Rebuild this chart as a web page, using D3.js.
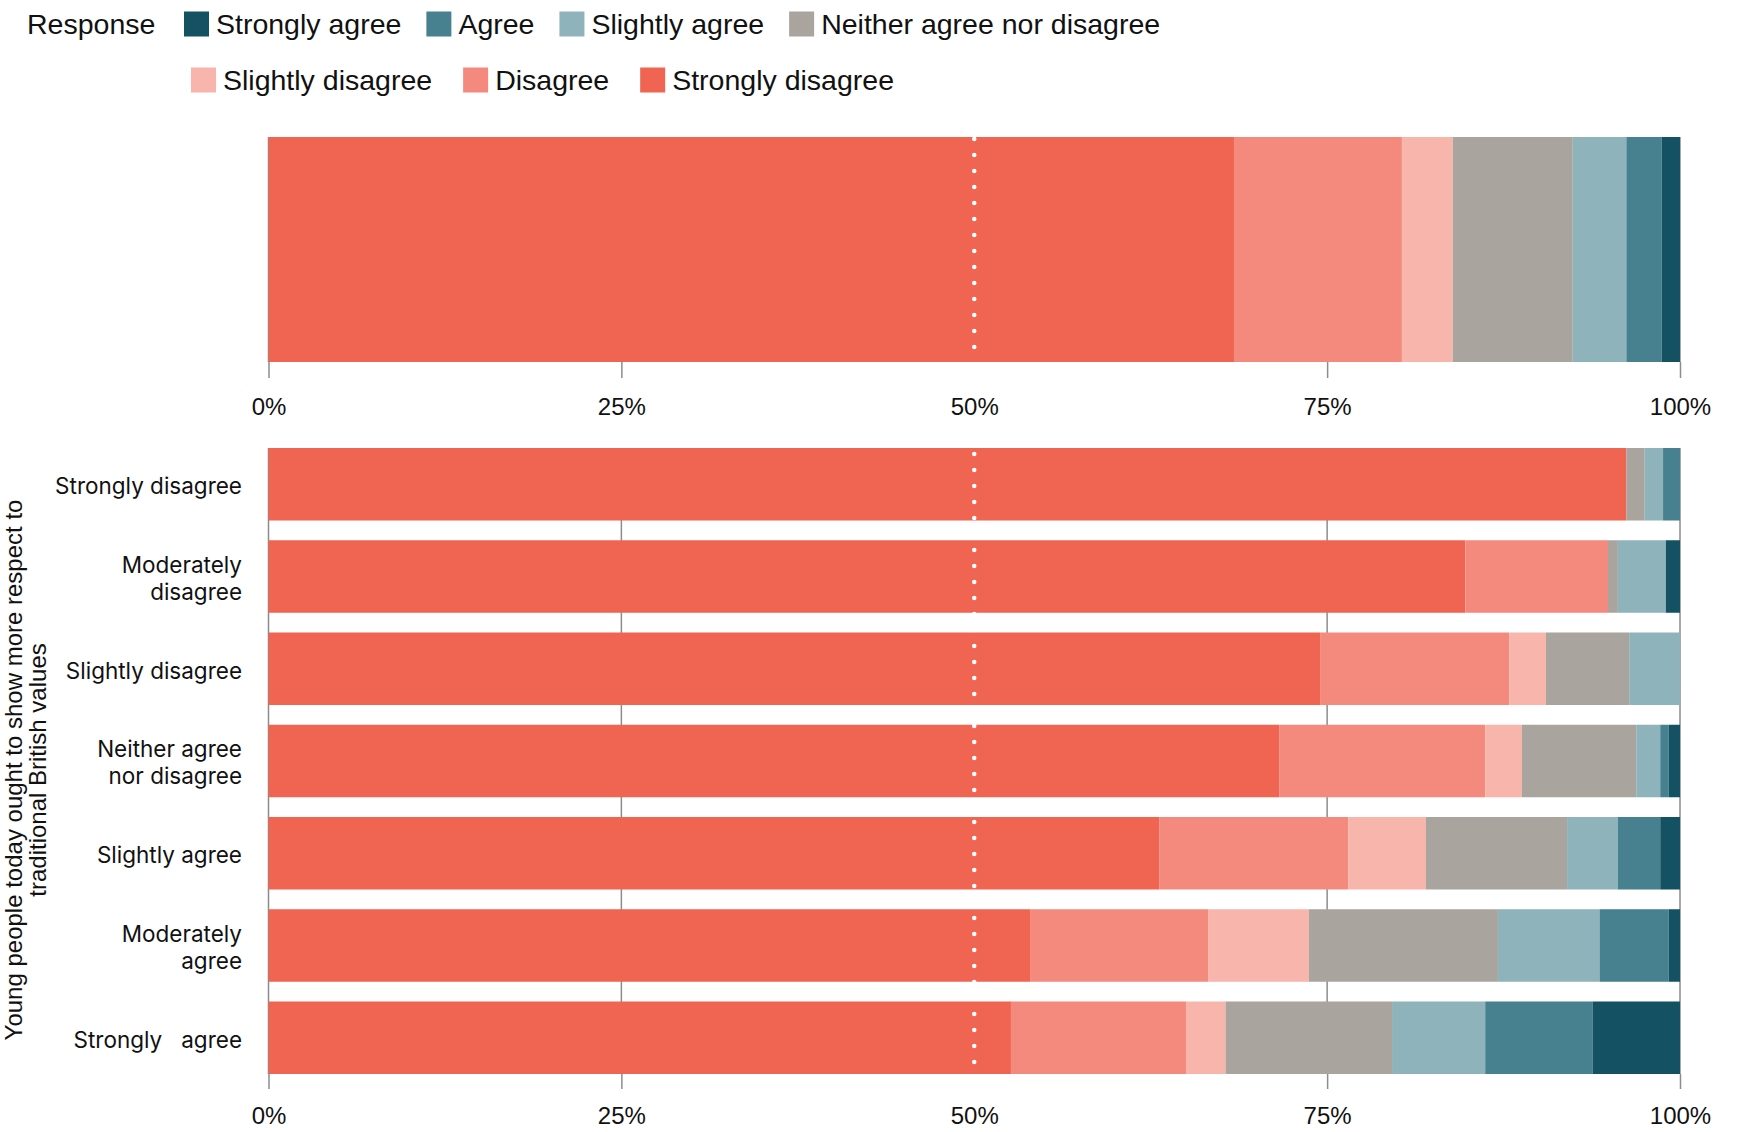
<!DOCTYPE html>
<html>

<head>
  <meta charset="utf-8">
  <style>
    body {
      margin: 0;
      background-color: #ffffff;
      font-family: 'Liberation Sans', sans-serif;
    }

    .legend text {
      font-size: 28.5px;
      fill: #111;
    }

    .axis text {
      font-family: 'Liberation Sans', sans-serif;
      font-size: 24px;
      fill: #111;
    }

    .axis line {
      stroke: #8c8c8c;
      stroke-width: 1.5px;
    }

    .grid line {
      stroke: #8c8c8c;
      stroke-width: 1.5px;
    }

    .cat {
      font-family: 'Inter', sans-serif;
      font-size: 22.5px;
      fill: #111;
      white-space: pre;
    }

    .title {
      font-size: 24px;
      fill: #111;
    }

    .midline {
      stroke: #fff;
      stroke-width: 4.5px;
      stroke-linecap: round;
      stroke-dasharray: 0, 16;
    }
  </style>
</head>

<body>
  <div id="chart"></div>

  <script src="https://d3js.org/d3.v7.min.js"></script>
  <script>
    var width = 1739,
      height = 1132;

    // responses, left to right in the bars
    var responses = ['Strongly disagree', 'Disagree', 'Slightly disagree', 'Neither agree nor disagree',
      'Slightly agree', 'Agree', 'Strongly agree'];
    var colours = ['#f06452', '#f48a7d', '#f8b5ac', '#a9a49e', '#8eb3ba', '#47808e', '#135163'];

    // legend reads from the agree end
    var legendRow1 = ['Strongly agree', 'Agree', 'Slightly agree', 'Neither agree nor disagree'];
    var legendRow2 = ['Slightly disagree', 'Disagree', 'Strongly disagree'];

    // all respondents
    var overall = [68.4, 11.9, 3.6, 8.5, 3.8, 2.5, 1.3];

    // answer to "young people today ought to show more respect..."
    var groups = ['Strongly disagree', 'Moderately disagree', 'Slightly disagree', 'Neither agree nor disagree',
      'Slightly agree', 'Moderately agree', 'Strongly agree'];
    var groupLabels = [['Strongly disagree'], ['Moderately', 'disagree'], ['Slightly disagree'],
      ['Neither agree', 'nor disagree'], ['Slightly agree'], ['Moderately', 'agree'], ['Strongly   agree']];

    var stronglyDisagree = [96.2, 84.8, 74.5, 71.6, 63.1, 54.0, 52.6];
    var disagree = [0, 10.1, 13.4, 14.6, 13.4, 12.6, 12.4];
    var slightlyDisagree = [0, 0, 2.6, 2.6, 5.5, 7.1, 2.8];
    var neither = [1.3, 0.7, 5.9, 8.1, 10.0, 13.4, 11.8];
    var slightlyAgree = [1.3, 3.4, 3.6, 1.7, 3.6, 7.2, 6.6];
    var agree = [1.2, 0, 0, 0.6, 3.0, 4.9, 7.6];
    var stronglyAgree = [0, 1.0, 0, 0.8, 1.4, 0.8, 6.2];

    var ticks = [0, 25, 50, 75, 100];

    var seriesValues = [stronglyDisagree, disagree, slightlyDisagree, neither, slightlyAgree, agree, stronglyAgree];

    var rows = groups.map(function(g, i) {
      var r = { group: g };
      responses.forEach(function(resp, j) {
        r[resp] = seriesValues[j][i];
      });
      return r;
    });
    var overallRow = [{ group: 'All' }];
    responses.forEach(function(resp, j) {
      overallRow[0][resp] = overall[j];
    });

    var color = d3.scaleOrdinal().domain(responses).range(colours);
    var stack = d3.stack().keys(responses);

    var x = d3.scaleLinear().domain([0, 100]).range([268.5, 1680]);

    var svg = d3.select('#chart').append('svg')
      .attr('width', width)
      .attr('height', height);

    // ---- legend
    var legend = svg.append('g').attr('class', 'legend');
    legend.append('text')
      .attr('x', 27)
      .attr('y', 24)
      .attr('dy', '0.35em')
      .text('Response');

    function legendRow(items, startX, cy, gap) {
      var cx = startX;
      items.forEach(function(name) {
        legend.append('rect')
          .attr('x', cx)
          .attr('y', cy - 12.5)
          .attr('width', 25)
          .attr('height', 25)
          .attr('fill', color(name));
        var t = legend.append('text')
          .attr('x', cx + 32)
          .attr('y', cy)
          .attr('dy', '0.35em')
          .text(name);
        cx = cx + 32 + t.node().getComputedTextLength() + gap;
      });
    }
    legendRow(legendRow1, 184, 24, 25);
    legendRow(legendRow2, 191, 80, 31);

    // ---- top panel: all respondents
    var topY = d3.scaleBand().domain(['All']).range([137, 362]);
    var topPanel = svg.append('g');

    topPanel.append('g')
      .attr('class', 'grid')
      .selectAll('line')
      .data([0, 25, 75, 100])
      .enter().append('line')
      .attr('x1', x).attr('x2', x)
      .attr('y1', 137).attr('y2', 362);

    topPanel.selectAll('g.layer')
      .data(stack(overallRow))
      .enter().append('g')
      .attr('class', 'layer')
      .attr('fill', function(d) { return color(d.key); })
      .selectAll('rect')
      .data(function(d) { return d; })
      .enter().append('rect')
      .attr('x', function(d) { return x(d[0]); })
      .attr('width', function(d) { return x(d[1]) - x(d[0]); })
      .attr('y', function(d) { return topY(d.data.group); })
      .attr('height', topY.bandwidth());

    topPanel.append('line')
      .attr('class', 'midline')
      .attr('x1', x(50)).attr('x2', x(50))
      .attr('y1', 139).attr('y2', 352);

    var topAxis = topPanel.append('g')
      .attr('class', 'axis')
      .attr('transform', 'translate(0,362)')
      .call(d3.axisBottom(x).tickValues(ticks).tickSize(16).tickPadding(20)
        .tickFormat(function(d) { return d + '%'; }));
    topAxis.select('.domain').remove();
    topAxis.selectAll('.tick').filter(function(d) { return d === 50; }).select('line').remove();

    // ---- bottom panel: by agreement with the statement
    var y = d3.scaleBand().domain(groups).range([448, 1074]).paddingInner(0.214);
    var bottomPanel = svg.append('g');

    bottomPanel.append('g')
      .attr('class', 'grid')
      .selectAll('line')
      .data([0, 25, 75, 100])
      .enter().append('line')
      .attr('x1', x).attr('x2', x)
      .attr('y1', 448).attr('y2', 1074);

    bottomPanel.selectAll('g.layer')
      .data(stack(rows))
      .enter().append('g')
      .attr('class', 'layer')
      .attr('fill', function(d) { return color(d.key); })
      .selectAll('rect')
      .data(function(d) { return d; })
      .enter().append('rect')
      .attr('x', function(d) { return x(d[0]); })
      .attr('width', function(d) { return x(d[1]) - x(d[0]); })
      .attr('y', function(d) { return y(d.data.group); })
      .attr('height', y.bandwidth());

    bottomPanel.append('line')
      .attr('class', 'midline')
      .attr('x1', x(50)).attr('x2', x(50))
      .attr('y1', 454).attr('y2', 1068);

    var bottomAxis = bottomPanel.append('g')
      .attr('class', 'axis')
      .attr('transform', 'translate(0,1074)')
      .call(d3.axisBottom(x).tickValues(ticks).tickSize(15).tickPadding(18)
        .tickFormat(function(d) { return d + '%'; }));
    bottomAxis.select('.domain').remove();
    bottomAxis.selectAll('.tick').filter(function(d) { return d === 50; }).select('line').remove();

    // category labels
    var cats = bottomPanel.append('g')
      .selectAll('text')
      .data(groups)
      .enter().append('text')
      .attr('class', 'cat')
      .attr('text-anchor', 'end')
      .attr('x', 242)
      .attr('y', function(d) { return y(d) + y.bandwidth() / 2; });

    cats.each(function(d, i) {
      var lines = groupLabels[i];
      var t = d3.select(this);
      lines.forEach(function(line, k) {
        t.append('tspan')
          .attr('x', 242)
          .attr('dy', k === 0 ? (0.35 * 22.5 + 2 - (lines.length - 1) * 13.5) + 'px' : '27px')
          .text(line);
      });
    });

    // rotated axis title
    var title = svg.append('text')
      .attr('class', 'title')
      .attr('text-anchor', 'middle')
      .attr('transform', 'translate(22,770) rotate(-90)');
    title.append('tspan').attr('x', 0).attr('y', 0).text('Young people today ought to show more respect to');
    title.append('tspan').attr('x', 0).attr('y', 24).text('traditional British values');
  </script>

</body>

</html>
